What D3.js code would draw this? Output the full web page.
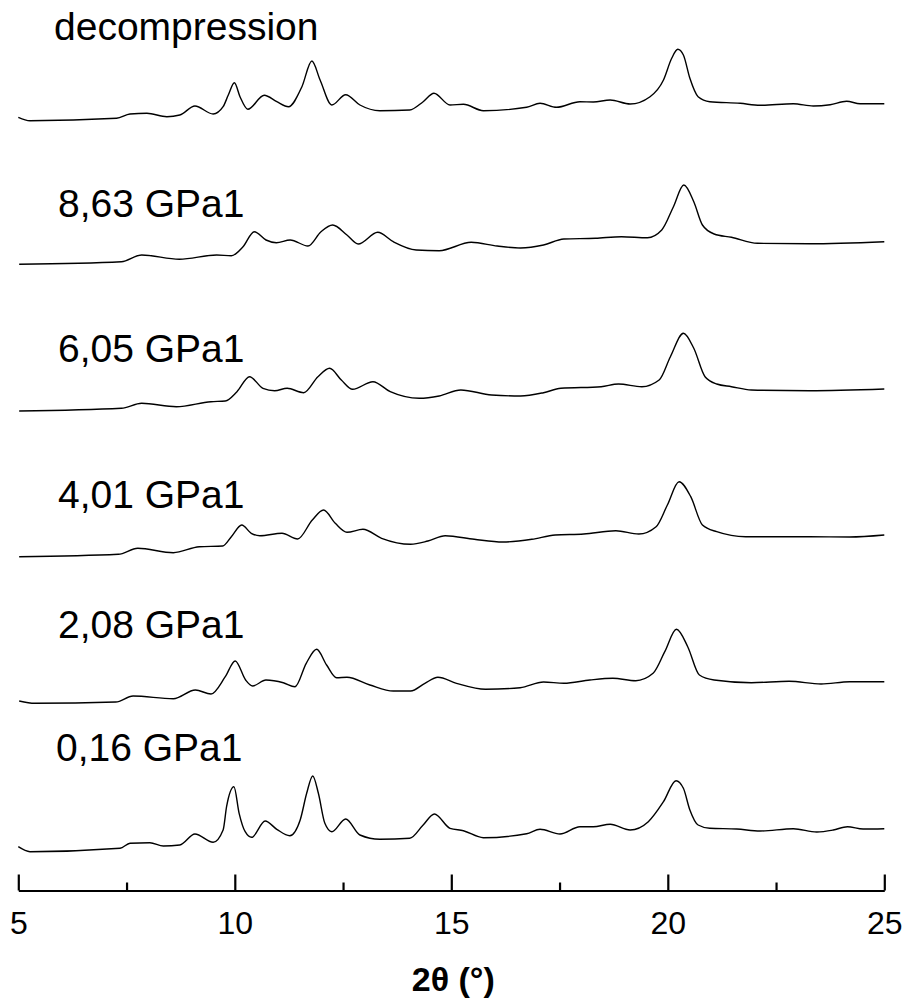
<!DOCTYPE html>
<html>
<head>
<meta charset="utf-8">
<script src="https://cdn.jsdelivr.net/npm/d3@7"></script>
<style>
  html, body { margin: 0; padding: 0; background: #fff; }
  svg { display: block; }
  text { font-family: "Liberation Sans", Arial, Helvetica, sans-serif; }
</style>
</head>
<body>
<svg id="chart" width="906" height="1003"></svg>
<script>
// ---------- DATA ----------
const seriesNames = ["0,16 GPa1", "2,08 GPa1", "4,01 GPa1", "6,05 GPa1", "8,63 GPa1", "decompression"];
const seriesOffsets = [0, 150, 295, 440, 590, 735];   // vertical stacking offsets (a.u.)

const theta016 = [5.00,5.27,7.35,7.58,8.04,8.35,8.73,9.08,9.50,9.73,9.81,9.98,10.10,10.24,10.39,10.70,10.97,11.27,11.51,11.66,11.80,11.93,12.08,12.24,12.56,12.89,13.35,14.04,14.35,14.61,14.97,15.28,15.74,16.74,17.05,17.51,17.97,18.28,18.67,19.13,19.55,19.90,20.19,20.36,20.51,20.70,20.97,21.59,22.13,22.90,23.44,23.82,24.15,24.51,25.00];
const int016   = [13.3,8.3,11.7,16.7,17.3,14,15,26,17.7,30,53.3,73.3,46.7,28.3,22.7,39,30.7,24.3,40,66.7,84,66.7,36.7,28.3,41,25,20.7,21.7,35,46,31.7,29.3,22.3,26.3,30.7,26,33.3,33.3,35.7,30,38.3,58.3,79.3,71.7,50,35,31.7,31,29,31.3,28,30,33.3,31,31.3];

const theta208 = [5.02,5.38,7.25,7.65,8.58,9.09,9.45,9.78,10.01,10.25,10.41,10.72,11.12,11.39,11.65,11.89,12.12,12.35,12.59,13.12,13.66,14.06,14.39,14.69,15.12,15.79,16.59,17.13,17.60,18.20,18.73,19.26,19.66,19.93,20.20,20.46,20.73,21.07,21.93,22.80,23.54,24.20,25.00];
const int208   = [9,6.7,8,14,11.3,20,16,33.3,49,30,24,30,27.3,23.3,46.7,60.7,45,32.3,32.7,25,19,19,26.7,32.7,26.7,20.7,22.3,28,26.7,30,31.7,29.3,36.7,58.3,80.7,63.3,35,30,27.3,28.7,26,28.3,28.3];

const theta401 = [5.02,7.31,7.76,8.58,9.18,9.72,9.92,10.16,10.38,10.58,11.09,11.45,11.79,12.05,12.32,12.59,12.96,13.39,14.06,14.46,14.86,15.53,16.19,16.86,17.40,18.06,18.80,19.33,19.73,19.99,20.26,20.53,20.80,21.13,21.80,23.27,24.20,25.00];
const int401   = [8.3,10.7,16.7,12.3,18.3,19,28.3,40,31.7,29.3,31.7,26,45,55,41.7,32.7,35.7,26.7,20.7,24,29.3,25.7,23,25.7,30,31,34.3,31,38.3,60,83.3,68.3,40,33.3,28.3,28.3,28,30];

const theta605 = [5.02,7.38,7.85,8.65,9.45,9.78,10.05,10.34,10.65,10.92,11.21,11.59,11.92,12.19,12.46,12.72,13.19,13.59,14.26,14.72,15.22,15.93,16.60,17.13,17.53,18.46,18.86,19.40,19.80,20.06,20.36,20.60,20.86,21.13,21.47,21.93,23.27,25.00];
const int605   = [9,11.7,16.7,13.3,18.3,19,28.3,43.3,31.7,29.3,31.7,27.3,43.3,51.7,40,30.7,38.3,28.3,21.7,24,30,25,24,27.3,31.7,33.3,36,33.3,40,63.3,86.7,71.7,43.3,36,33.3,30,29.3,31];

const theta863 = [5.02,7.38,7.85,8.72,9.58,9.92,10.19,10.45,10.72,10.96,11.28,11.69,11.99,12.26,12.59,12.85,13.30,13.66,14.19,14.72,15.46,16.06,16.60,17.13,17.60,18.33,18.93,19.53,19.86,20.13,20.37,20.60,20.80,21.07,21.47,22.07,23.27,25.00];
const int863   = [5.7,8.3,15,10.7,15,14.3,23.3,38.3,30,27.3,30,24,38.3,45,35,26,37.7,28.3,20,19.3,27.7,24,22,25,31,31.7,33.3,32.3,40,63.3,85,68.3,45,36,32.7,26.7,26.3,28.3];

const thetaDec = [5.00,5.27,7.27,7.58,7.97,8.43,8.73,9.08,9.50,9.73,9.85,9.99,10.12,10.30,10.68,10.97,11.24,11.55,11.78,11.97,12.24,12.56,12.89,13.35,14.04,14.35,14.60,14.97,15.28,15.74,16.74,17.05,17.43,17.97,18.28,18.67,19.13,19.59,19.90,20.09,20.23,20.36,20.51,20.70,20.97,21.67,22.13,22.90,23.36,23.75,24.13,24.44,25.00];
const intDec   = [7.7,4.3,6.7,11,11.7,8.3,10,19,11,18.3,30,42.3,28.3,15.7,29.7,23.3,18.3,38.3,64,45,20,30.3,20,14.3,15,23.3,31.7,20,20.7,14.3,17.7,21.7,17.7,23.3,23,25,21,28.3,45,66.7,75.7,70,46.7,28.3,23.3,21.7,19.7,21.3,19,20.3,23.7,21.3,21.3];

const xTicks = [5, 10, 15, 20, 25];
const xMinorTicks = [7.5, 12.5, 17.5, 22.5];
const xTitle = "2θ (°)";

// ---------- BUILD ----------
const thetas = [theta016, theta208, theta401, theta605, theta863, thetaDec];
const ints = [int016, int208, int401, int605, int863, intDec];
const series = seriesNames.map((name, i) => ({
  name,
  offset: seriesOffsets[i],
  points: thetas[i].map((t, j) => ({ x: t, y: ints[i][j] + seriesOffsets[i] }))
}));

const svg = d3.select("#chart");
const axisY = 890.5;

const x = d3.scaleLinear().domain([5, 25]).range([18.3, 884.3]);
const y = d3.scaleLinear().domain([0, 860]).range([860, 0]);

const line = d3.line()
  .x(d => x(d.x))
  .y(d => y(d.y))
  .curve(d3.curveMonotoneX);

svg.append("g").selectAll("path")
  .data(series)
  .join("path")
  .attr("d", d => line(d.points))
  .attr("fill", "none")
  .attr("stroke", "#000")
  .attr("stroke-width", 1.4)
  .attr("stroke-linejoin", "round");

// series labels
const labelPos = [
  { x: 56, y: 760.5 },
  { x: 58, y: 637.5 },
  { x: 58, y: 507.5 },
  { x: 58, y: 361.5 },
  { x: 58, y: 217 },
  { x: 54, y: 39.5 }
];
svg.append("g").selectAll("text")
  .data(series)
  .join("text")
  .attr("x", (d, i) => labelPos[i].x)
  .attr("y", (d, i) => labelPos[i].y)
  .attr("font-size", 39)
  .attr("fill", "#000")
  .text(d => d.name);

// x axis
const gx = svg.append("g").attr("transform", `translate(0,${axisY})`);
gx.call(d3.axisBottom(x).tickValues(xTicks).tickSizeInner(-16).tickSizeOuter(0).tickPadding(21).tickFormat(d3.format("d")));
gx.select(".domain").attr("stroke", "#000").attr("stroke-width", 2.2);
gx.selectAll(".tick line").attr("stroke", "#000").attr("stroke-width", 2.2);
gx.selectAll(".tick text").attr("font-size", 32).attr("font-family", "Liberation Sans, Arial, sans-serif").attr("fill", "#000");

const gm = svg.append("g").attr("transform", `translate(0,${axisY})`);
gm.call(d3.axisBottom(x).tickValues(xMinorTicks).tickSizeInner(-8).tickSizeOuter(0).tickFormat(""));
gm.select(".domain").remove();
gm.selectAll(".tick line").attr("stroke", "#000").attr("stroke-width", 2.2);

svg.append("text")
  .attr("x", (x(5) + x(25)) / 2 + 2)
  .attr("y", 991)
  .attr("text-anchor", "middle")
  .attr("font-size", 34)
  .attr("font-weight", "bold")
  .attr("fill", "#000")
  .text(xTitle);
</script>
</body>
</html>
